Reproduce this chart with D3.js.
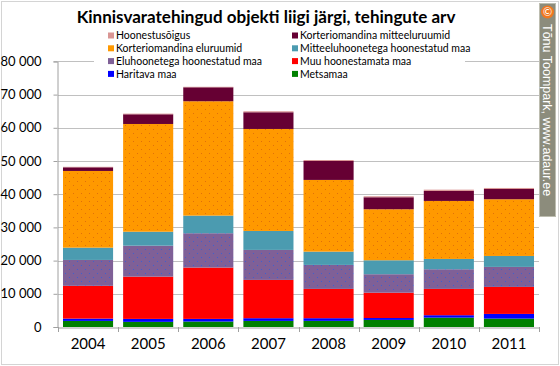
<!DOCTYPE html>
<html><head><meta charset="utf-8">
<script src="https://cdn.jsdelivr.net/npm/d3@7/dist/d3.min.js"></script>
<style>
html,body{margin:0;padding:0;background:#fff;}
svg{display:block;font-family:Lato,"Open Sans",sans-serif;}
</style></head><body>
<svg id="c" width="560" height="366"></svg>
<script>
const years = ["2004","2005","2006","2007","2008","2009","2010","2011"];
const seriesNames = ["Metsamaa","Haritava maa","Muu hoonestamata maa","Eluhoonetega hoonestatud maa","Mitteeluhoonetega hoonestatud maa","Korteriomandina eluruumid","Korteriomandina mitteeluruumid","Hoonestusõigus"];
const metsamaa = [1840,1550,1650,1840,1850,2140,2830,2530];
const haritavaMaa = [690,890,790,810,800,560,720,1410];
const muuHoonestamata = [9870,12730,15460,11530,8820,7630,7920,8130];
const eluhoonetega = [7800,9330,10350,9040,7230,5570,5930,6030];
const mitteeluhoonetega = [3700,4200,5300,5710,4000,4200,3100,3300];
const kEluruumid = [23100,32450,34450,30720,21600,15370,17470,17080];
const kMitteeluruumid = [1100,2920,4200,5030,5700,3610,3010,3100];
const hoonestusoigus = [150,200,150,300,300,300,390,300];
const yTicks = [0,10000,20000,30000,40000,50000,60000,70000,80000];
const title = "Kinnisvaratehingud objekti liigi järgi, tehingute arv";
const watermark = "Tõnu Toompark, www.adaur.ee";

const values = [metsamaa,haritavaMaa,muuHoonestamata,eluhoonetega,mitteeluhoonetega,kEluruumid,kMitteeluruumid,hoonestusoigus];
const colors = ["#008000","#0000FF","#FF0000","#7F6097","#4B9BB0","#FF9900","#660033","#D99694"];
const fills = ["#008000","#0000FF","#FF0000","url(#pPurple)","#4B9BB0","url(#pOrange)","#660033","#D99694"];

const rows = years.map((y,i)=>{const o={year:y}; seriesNames.forEach((s,k)=>o[s]=values[k][i]); return o;});
const stacked = d3.stack().keys(seriesNames)(rows);

const svg = d3.select("#c");
const defs = svg.append("defs");
function dotPattern(id, bg, dot){
  const p = defs.append("pattern").attr("id",id).attr("patternUnits","userSpaceOnUse").attr("width",8).attr("height",8);
  p.append("rect").attr("width",8).attr("height",8).attr("fill",bg);
  p.append("rect").attr("x",1).attr("y",1).attr("width",1).attr("height",1).attr("fill",dot);
  p.append("rect").attr("x",5).attr("y",5).attr("width",1).attr("height",1).attr("fill",dot);
}
dotPattern("pOrange","#FF9900","#E0700A");
dotPattern("pPurple","#7F6097","#3F5FD0");

// outer frame
svg.append("rect").attr("x",1.5).attr("y",1.5).attr("width",557).attr("height",363).attr("fill","#fff").attr("stroke","#d4d4d4");

const x = d3.scaleBand().domain(years).range([58,539]).paddingInner(0.167).paddingOuter(0.083);
const y = d3.scaleLinear().domain([0,80000]).range([327,61.4]);

// gridlines
svg.append("g").selectAll("line").data(yTicks.slice(1)).join("line")
  .attr("x1",58).attr("x2",539).attr("y1",d=>Math.round(y(d))+0.5).attr("y2",d=>Math.round(y(d))+0.5)
  .attr("stroke","#c0c0c0").attr("stroke-width",1);

// y axis
const yAx = svg.append("g").attr("transform","translate(57.5,0)")
  .call(d3.axisLeft(y).tickValues(yTicks).tickSize(4).tickFormat(d=>d===0?"0":(d/1000)+" 000"));
yAx.select(".domain").attr("stroke","#a0a0a0");
yAx.selectAll(".tick line").attr("stroke","#a0a0a0");
yAx.selectAll("text").attr("font-size",13).attr("fill","#000").attr("x",-16).attr("font-family","Lato,sans-serif");

// bars
svg.append("g").selectAll("g").data(stacked).join("g")
  .attr("fill",(d,i)=>fills[i])
  .selectAll("rect").data(d=>d).join("rect")
  .attr("x",d=>x(d.data.year)).attr("width",x.bandwidth())
  .attr("y",d=>y(d[1])).attr("height",d=>Math.max(0,y(d[0])-y(d[1])));

// x axis
const xb = d3.scaleBand().domain(years).range([58,539]);
const xAx = svg.append("g").attr("transform","translate(0,327.5)")
  .call(d3.axisBottom(xb).tickSize(0).tickSizeOuter(0));
xAx.select(".domain").attr("stroke","#a0a0a0");
xAx.selectAll("text").attr("font-size",15).attr("fill","#000").attr("dy","1.2em").attr("font-family","Lato,sans-serif");
svg.append("g").selectAll("line").data(d3.range(years.length+1)).join("line")
  .attr("x1",i=>Math.round(58+i*xb.step())+0.5).attr("x2",i=>Math.round(58+i*xb.step())+0.5)
  .attr("y1",327).attr("y2",332).attr("stroke","#a0a0a0");

// title
svg.append("text").attr("x",266).attr("y",23).attr("text-anchor","middle")
  .attr("font-size",17).attr("font-weight","bold").attr("fill","#000").text(title);

// legend
svg.append("rect").attr("x",94).attr("y",29).attr("width",371).attr("height",51).attr("fill","#fff");
const legendOrder = [7,6,5,4,3,2,1,0];
const lg = svg.append("g");
legendOrder.forEach((k,idx)=>{
  const col = idx%2, row = Math.floor(idx/2);
  const lx = col===0?108:292, ly = 35.5+row*12.8;
  lg.append("rect").attr("x",lx).attr("y",ly-3).attr("width",6).attr("height",6).attr("fill",colors[k]);
  lg.append("text").attr("x",lx+8).attr("y",ly+3.8).attr("font-size",10.5).attr("fill","#000").text(seriesNames[k]);
});

// watermark strip
svg.append("rect").attr("x",539.5).attr("y",3.5).attr("width",16).attr("height",213).attr("fill","#8c8c7c").attr("stroke","#bdbdb0");
svg.append("circle").attr("cx",547.5).attr("cy",12).attr("r",6.5).attr("fill","#F07820");
svg.append("text").attr("x",547.5).attr("y",16).attr("text-anchor","middle").attr("font-size",11).attr("fill","#fff").text("©");
svg.append("text").attr("transform","translate(543,24) rotate(90)").attr("font-size",12.5).attr("fill","#fff")
  .attr("font-family","'Liberation Sans',Arial,sans-serif").text(watermark);
</script></body></html>
